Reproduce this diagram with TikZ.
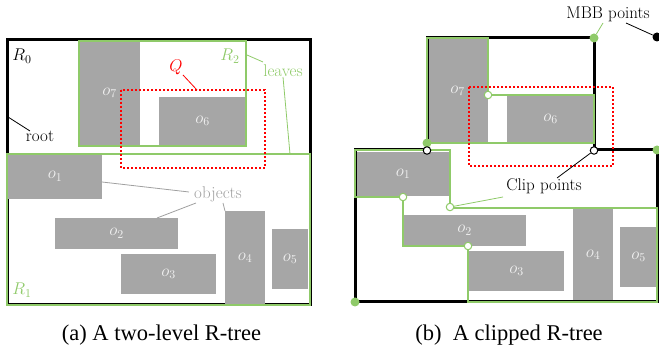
\RequirePackage{fix-cm}
\documentclass[tikz,border=0pt]{standalone}
\usepackage{fontspec}
\newfontfamily\capfont{Liberation Serif}
\definecolor{lgreen}{RGB}{143,202,105}
\definecolor{objgray}{RGB}{166,166,166}
\definecolor{objtxt}{RGB}{240,240,240}
\definecolor{lblgray}{RGB}{160,160,160}
\begin{document}
\begin{tikzpicture}[x=1pt,y=-1pt,
  lbl/.style={inner sep=0pt, font=\fontsize{17}{20}\selectfont},
  obj/.style={lbl, fill=objgray, text=objtxt},
  rootline/.style={line width=3pt, black, line join=miter},
  leafline/.style={line width=1.8pt, lgreen, line join=miter},
  qline/.style={line width=2pt, red, dotted},
  thinline/.style={line width=0.8pt},
  mbbpt/.style={circle, fill=lgreen, inner sep=0pt, minimum size=9pt},
  blkpt/.style={circle, fill=black, inner sep=0pt, minimum size=9pt},
  clipb/.style={circle, draw=black, fill=white, line width=1pt, inner sep=0pt, minimum size=7.5pt},
  clipg/.style={circle, draw=lgreen, fill=white, line width=1pt, inner sep=0pt, minimum size=7.5pt},
  captxt/.style={inner sep=0pt, anchor=base, font=\capfont\fontsize{22.5}{26}\selectfont}
]
\useasboundingbox (0,0) rectangle (659,352);
% ===================== (a) =====================
\draw[rootline] (7,40) rectangle (310,305);
\node[obj, minimum width=94pt, minimum height=45pt] (a1) at (55,176.5) {$o_1$};
\node[obj, minimum width=123pt, minimum height=31pt] (a2) at (116.5,233.5) {$o_2$};
\node[obj, minimum width=95pt, minimum height=40pt] (a3) at (168.5,274) {$o_3$};
\node[obj, minimum width=40pt, minimum height=94pt] (a4) at (245,258) {$o_4$};
\node[obj, minimum width=36pt, minimum height=60pt] (a5) at (290,259) {$o_5$};
\node[obj, minimum width=87pt, minimum height=48pt] (a6) at (202.5,121) {$o_6$};
\node[obj, minimum width=61pt, minimum height=104pt] (a7) at (109.5,93) {$o_7$};
\draw[leafline] (79,41) rectangle (246,146);
\draw[leafline] (7,154) rectangle (310,305);
\draw[qline] (121,90) rectangle (265,168);
% labels (a)
\node[lbl] (aR0) at (22,56) {$R_0$};
\node[lbl, text=lgreen] (aR2) at (230,56) {$R_2$};
\node[lbl, text=lgreen] (aR1) at (22,290) {$R_1$};
\node[lbl, text=red] (aQ) at (176,67) {$Q$};
\node[lbl] (aroot) at (40,136) {root};
\node[lbl, text=lgreen] (aleaves) at (283,71) {leaves};
\node[lbl, text=lblgray] (aobjects) at (218,194) {objects};
% connectors (a)
\coordinate (rootA) at (8,117); \coordinate (rootB) at (30,131);
\draw[thinline] (rootA) -- (rootB);
\coordinate (qA) at (183,75); \coordinate (qB) at (197,90);
\draw[thinline, red] (qA) -- (qB);
\coordinate (lvA) at (247,55); \coordinate (lvB) at (263,62);
\coordinate (lvC) at (283,77); \coordinate (lvD) at (290,154);
\draw[thinline, lgreen] (lvA) -- (lvB);
\draw[thinline, lgreen] (lvC) -- (lvD);
\coordinate (obA) at (102,182); \coordinate (obB) at (189,192);
\coordinate (obC) at (157,218); \coordinate (obD) at (196,203);
\coordinate (obE) at (223,203); \coordinate (obF) at (225,211);
\draw[thinline, lblgray] (obA) -- (obB);
\draw[thinline, lblgray] (obC) -- (obD);
\draw[thinline, lblgray] (obE) -- (obF);
% ===================== (b) =====================
\node[obj, minimum width=92pt, minimum height=44pt] (b1) at (403,174) {$o_1$};
\node[obj, minimum width=123pt, minimum height=31pt] (b2) at (464.5,230.5) {$o_2$};
\node[obj, minimum width=95pt, minimum height=40pt] (b3) at (516.5,271) {$o_3$};
\node[obj, minimum width=40pt, minimum height=94pt] (b4) at (593,255) {$o_4$};
\node[obj, minimum width=37pt, minimum height=60pt] (b5) at (638.5,257) {$o_5$};
\node[obj, minimum width=87pt, minimum height=48pt] (b6) at (550.5,119) {$o_6$};
\node[obj, minimum width=61pt, minimum height=105pt] (b7) at (457.5,91) {$o_7$};
\draw[rootline] (427,38) -- (594,38) -- (594,150) -- (657,150) -- (657,302)
  -- (355,302) -- (355,150) -- (427,150) -- cycle;
\draw[leafline] (427,38) -- (488,38) -- (488,95) -- (594,95) -- (594,143) -- (427,143) -- cycle;
\draw[leafline] (355,150) -- (450,150) -- (450,208) -- (657,208) -- (657,302) -- (468,302)
  -- (468,246) -- (403,246) -- (403,197) -- (355,197) -- cycle;
\draw[qline] (469,87) rectangle (613,166);
% labels (b)
\node[lbl] (mbb) at (608,14) {MBB points};
\node[lbl] (clip) at (544,186) {Clip points};
% points
\node[mbbpt] (m1) at (594,38) {};
\node[mbbpt] (m2) at (427,143) {};
\node[mbbpt] (m3) at (657,150) {};
\node[mbbpt] (m4) at (355,302) {};
\node[blkpt] (m5) at (657,37) {};
\node[clipb] (c1) at (427,150.5) {};
\node[clipb] (c2) at (594,150.5) {};
\node[clipg] (c3) at (488,95) {};
\node[clipg] (c4) at (403,197) {};
\node[clipg] (c5) at (450,207) {};
\node[clipg] (c6) at (468,246) {};
% connectors (b)
\coordinate (mbA) at (603,23); \coordinate (mbB) at (626,23);
\draw[thinline, lgreen] (mbA) -- (m1);
\draw[thinline] (mbB) -- (m5);
\coordinate (clA) at (557,178); \coordinate (clB) at (503,197);
\draw[thinline] (clA) -- (c2);
\draw[thinline, lgreen] (clB) -- (c5);
% captions
\node[captxt] (capa) at (161.5,341) {(a) A two-level R-tree};
\node[captxt] (capb) at (509,341) {(b)\ \ A clipped R-tree};
\end{tikzpicture}
\end{document}
